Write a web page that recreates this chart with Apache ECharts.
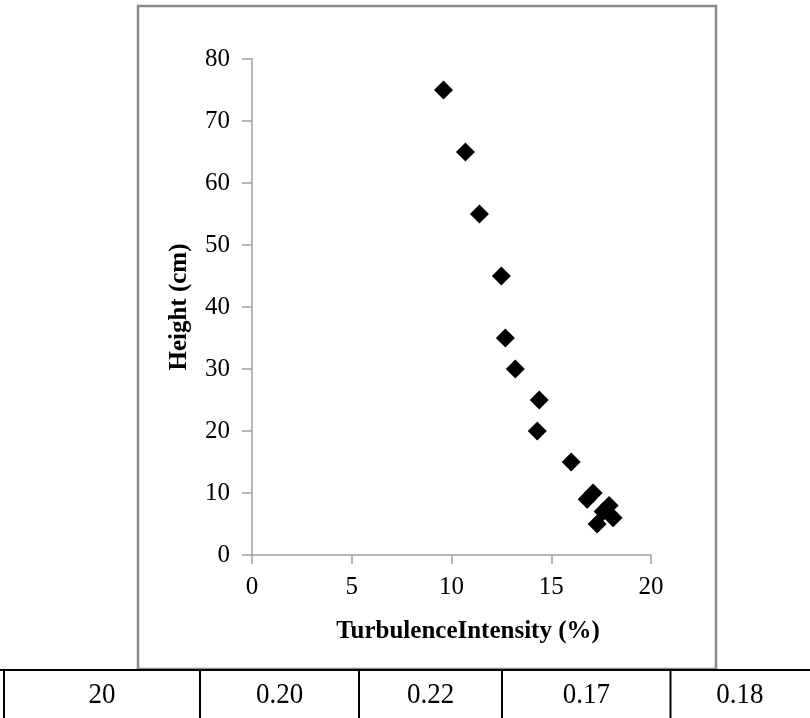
<!DOCTYPE html>
<html>
<head>
<meta charset="utf-8">
<script src="https://cdn.jsdelivr.net/npm/echarts@6/dist/echarts.min.js"></script>
<style>
html,body{margin:0;padding:0;background:#fff;}
#c{width:810px;height:718px;}
</style>
</head>
<body>
<div id="c"></div>
<script>
// Data
var intensity = [9.6, 10.7, 11.4, 12.5, 12.7, 13.2, 14.4, 14.3, 16.0, 17.1, 16.8, 17.9, 17.6, 18.1, 17.3];
var heights   = [75,  65,   55,   45,   35,   30,   25,   20,   15,   10,   9,    8,    7,    6,    5];
var xTitle = 'TurbulenceIntensity (%)';
var yTitle = 'Height (cm)';
var tableCells = ['20', '0.20', '0.22', '0.17', '0.18'];

var points = intensity.map(function (v, i) { return [v, heights[i]]; });

var FONT = '"Liberation Serif", "Times New Roman", serif';
var tableSeps = [4, 200, 359, 502, 670.5, 809];
var graphics = [
  { type: 'rect', shape: { x: 138, y: 6, width: 578, height: 663 },
    style: { fill: 'none', stroke: '#8a8a8a', lineWidth: 2.5 }, z: 0 },
  { type: 'text', x: 180, y: 307, rotation: Math.PI / 2,
    style: { text: yTitle, font: 'bold 25px ' + FONT, fill: '#000', textAlign: 'center', textVerticalAlign: 'middle' } },
  { type: 'text', x: 468, y: 632,
    style: { text: xTitle, font: 'bold 25px ' + FONT, fill: '#000', textAlign: 'center', textVerticalAlign: 'middle' } },
  { type: 'line', shape: { x1: 0, y1: 670, x2: 810, y2: 670 }, style: { stroke: '#000', lineWidth: 2 } }
];
tableSeps.slice(0, 5).forEach(function (x) {
  graphics.push({ type: 'line', shape: { x1: x, y1: 670, x2: x, y2: 718 }, style: { stroke: '#000', lineWidth: 2 } });
});
tableCells.forEach(function (t, i) {
  graphics.push({ type: 'text', x: (tableSeps[i] + tableSeps[i + 1]) / 2, y: 695, scaleY: 1.1,
    style: { text: t, font: '27px ' + FONT, fill: '#000', textAlign: 'center', textVerticalAlign: 'middle' } });
});

var chart = echarts.init(document.getElementById('c'), null, { renderer: 'canvas' });
chart.setOption({
  animation: false,
  backgroundColor: '#fff',
  grid: { left: 252, right: 159, top: 59, bottom: 163, containLabel: false },
  xAxis: {
    type: 'value', min: 0, max: 20, interval: 5,
    axisLine: { show: true, onZero: false, lineStyle: { color: '#a0a0a0', width: 1.5 } },
    axisTick: { show: true, inside: false, length: 9, lineStyle: { color: '#a0a0a0', width: 1.5 } },
    axisLabel: { color: '#000', fontFamily: FONT, fontSize: 25, margin: 20 },
    splitLine: { show: false }
  },
  yAxis: {
    type: 'value', min: 0, max: 80, interval: 10,
    axisLine: { show: true, onZero: false, lineStyle: { color: '#a0a0a0', width: 1.5 } },
    axisTick: { show: true, inside: false, length: 10, lineStyle: { color: '#a0a0a0', width: 1.5 } },
    axisLabel: { color: '#000', fontFamily: FONT, fontSize: 25, margin: 22 },
    splitLine: { show: false }
  },
  series: [{
    type: 'scatter',
    data: points,
    symbol: 'diamond',
    symbolSize: 19,
    itemStyle: { color: '#000', opacity: 1 }
  }],
  graphic: graphics
});
</script>
</body>
</html>
